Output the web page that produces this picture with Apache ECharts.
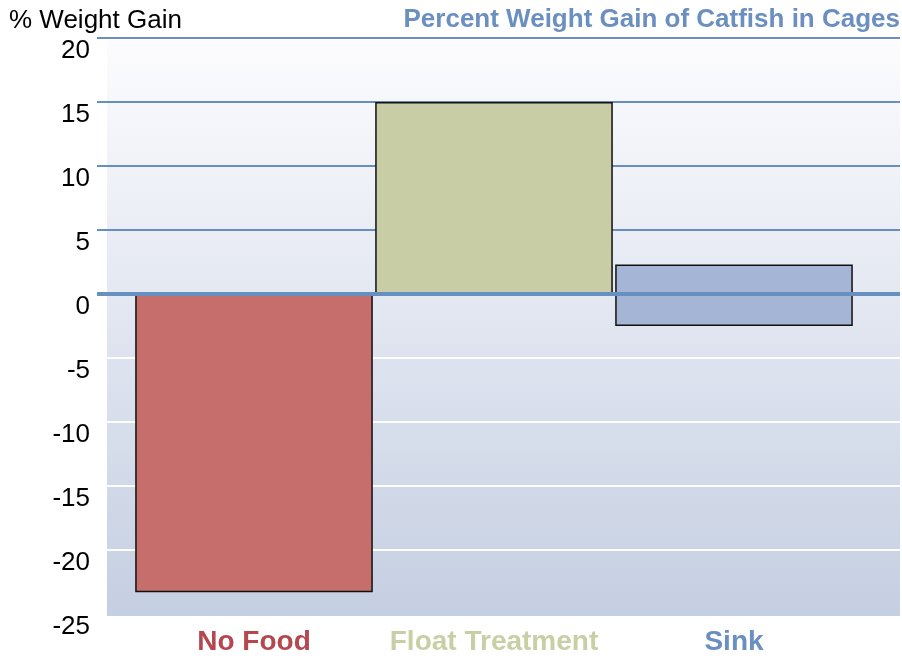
<!DOCTYPE HTML>
<html>
<head>
	<meta charset="utf-8" />
	<title>Catfish</title>
	<script src="https://cdn.jsdelivr.net/npm/echarts@6/dist/echarts.min.js"></script>
	<style>
		body { margin: 0; background: #ffffff; }
		#main { width: 902px; height: 658px; }
	</style>
</head>
<body>
	<div id="main"></div>
	<script type="text/javascript">
		// data
		var categories = ["No Food", "Float Treatment", "Sink"];
		var gainTop = [-23.3, 15, 2.3];      // main bar values
		var gainBelow = [null, null, -2.5];  // Sink bar also reaches below zero
		var barColors = ["#c66e6b", "#c8cda6", "#a4b5d5"];
		var labelColors = ["#b5474f", "#c9cfa4", "#6a8fc0"];
		var yMin = -25, yMax = 20, yStep = 5;
		// split line colours from -25 up to 20
		var lineColors = ["rgba(0,0,0,0)", "#ffffff", "#ffffff", "#ffffff", "#ffffff",
			"rgba(0,0,0,0)", "#6a8dc0", "#6a8dc0", "#6a8dc0", "#6a8dc0"];

		var myChart = echarts.init(document.getElementById("main"));

		var gridTop = 38, gridBottom = 44;

		function barItem(v, i) {
			return { value: v, itemStyle: { color: barColors[i] } };
		}

		var rich = {};
		labelColors.forEach(function (c, i) {
			rich["c" + i] = { color: c, fontSize: 28, fontWeight: "bold" };
		});

		var option = {
			animation: false,
			textStyle: { fontFamily: "Liberation Sans, Arial, sans-serif" },
			graphic: [{
				type: "rect",
				z: -10,
				shape: { x: 107, y: 40, width: 793, height: 576 },
				style: {
					fill: new echarts.graphic.LinearGradient(0, 0, 0, 1, [
						{ offset: 0, color: "#fcfcfe" },
						{ offset: 1, color: "#c5cfe2" }
					])
				}
			}, {
				type: "text",
				left: 9, top: 8,
				style: { text: "% Weight Gain", fill: "#000", font: "26px Liberation Sans, Arial, sans-serif" }
			}, {
				type: "text",
				right: 2, top: 7,
				style: { text: "Percent Weight Gain of Catfish in Cages", fill: "#6a8fc0", font: "bold 26px Liberation Sans, Arial, sans-serif" }
			}],
			grid: [
				{ left: 97, right: 2, top: gridTop, bottom: gridBottom },
				{ left: 134, right: 48, top: gridTop, bottom: gridBottom }
			],
			xAxis: [
				{ type: "value", gridIndex: 0, min: 0, max: 1, show: false },
				{
					type: "category", gridIndex: 1, data: categories,
					axisLine: { show: false }, axisTick: { show: false },
					axisLabel: {
						interval: 0,
						margin: 14,
						formatter: function (v) {
							var i = categories.indexOf(v);
							return "{c" + i + "|" + v + "}";
						},
						rich: rich
					}
				}
			],
			yAxis: [
				{
					type: "value", gridIndex: 0, min: yMin, max: yMax, interval: yStep,
					axisLine: { show: false }, axisTick: { show: false },
					axisLabel: { margin: 7, fontSize: 26, color: "#000", verticalAlign: "top", lineHeight: 26 },
					splitLine: { show: true, lineStyle: { color: lineColors, width: 2 } }
				},
				{
					type: "value", gridIndex: 1, min: yMin, max: yMax, interval: yStep,
					show: false
				}
			],
			series: [
				{
					type: "bar", xAxisIndex: 1, yAxisIndex: 1, stack: "g",
					barWidth: "99%",
					itemStyle: { borderColor: "#111", borderWidth: 1.5 },
					data: gainTop.map(barItem)
				},
				{
					type: "bar", xAxisIndex: 1, yAxisIndex: 1, stack: "g",
					barWidth: "99%",
					itemStyle: { borderColor: "#111", borderWidth: 1.5 },
					data: gainBelow.map(barItem)
				},
				{
					type: "line", xAxisIndex: 0, yAxisIndex: 0, data: [], z: 10,
					markLine: {
						silent: true, symbol: "none", label: { show: false },
						lineStyle: { color: "#6690c0", width: 4, type: "solid" },
						data: [{ yAxis: 0 }]
					}
				}
			]
		};

		myChart.setOption(option);
	</script>
</body>
</html>
